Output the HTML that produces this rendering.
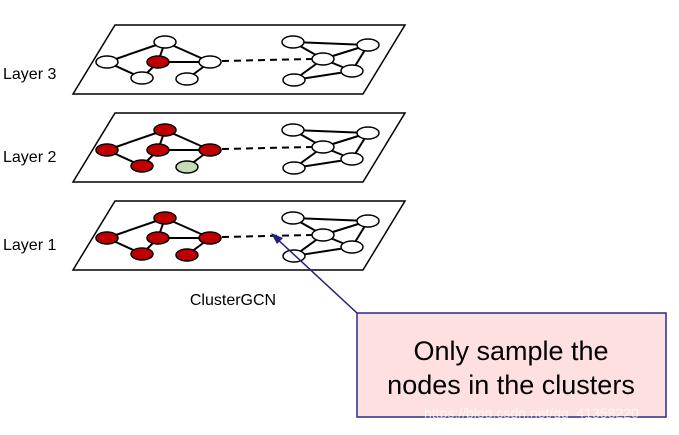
<!DOCTYPE html>
<html><head><style>body{margin:0;background:#fff}svg{display:block}</style></head><body>
<svg width="679" height="435" xmlns="http://www.w3.org/2000/svg" font-family="Liberation Sans, sans-serif">
<defs>
<g id="edges" stroke="#000" stroke-width="2" fill="none">
<polygon points="115,25 405,25 363,94 73,94" stroke-width="1.5" fill="#fff"/>
<line x1="107" y1="62" x2="165" y2="42"/><line x1="107" y1="62" x2="142" y2="78"/>
<line x1="165" y1="42" x2="210" y2="62"/><line x1="165" y1="42" x2="158" y2="62"/>
<line x1="158" y1="62" x2="210" y2="62"/><line x1="158" y1="62" x2="142" y2="78"/>
<line x1="210" y1="62" x2="187" y2="79"/>
<line x1="222" y1="61" x2="312" y2="59" stroke-dasharray="7,5"/>
<line x1="293" y1="42" x2="368" y2="45"/><line x1="293" y1="42" x2="323" y2="59"/>
<line x1="368" y1="45" x2="323" y2="59"/><line x1="368" y1="45" x2="352" y2="71"/>
<line x1="323" y1="59" x2="352" y2="71"/><line x1="323" y1="59" x2="294" y2="80"/>
<line x1="294" y1="80" x2="352" y2="71"/>
</g>
<g id="right" stroke="#000" stroke-width="1.5" fill="#fff">
<ellipse cx="293" cy="42" rx="11" ry="6"/><ellipse cx="368" cy="45" rx="11" ry="6"/>
<ellipse cx="323" cy="59" rx="11" ry="6"/><ellipse cx="352" cy="71" rx="11" ry="6"/>
<ellipse cx="294" cy="80" rx="11" ry="6"/>
</g>
</defs>
<g>
<use href="#edges"/><use href="#right"/>
<g stroke="#000" stroke-width="1.5">
<ellipse cx="107" cy="62" rx="11" ry="6" fill="#fff"/><ellipse cx="165" cy="42" rx="11" ry="6" fill="#fff"/>
<ellipse cx="158" cy="62" rx="11" ry="6" fill="#c00000"/><ellipse cx="210" cy="62" rx="11" ry="6" fill="#fff"/>
<ellipse cx="142" cy="78" rx="11" ry="6" fill="#fff"/><ellipse cx="187" cy="79" rx="11" ry="6" fill="#fff"/>
</g></g>
<g transform="translate(0,88)">
<use href="#edges"/><use href="#right"/>
<g stroke="#000" stroke-width="1.5" fill="#c00000">
<ellipse cx="107" cy="62" rx="11" ry="6"/><ellipse cx="165" cy="42" rx="11" ry="6"/>
<ellipse cx="158" cy="62" rx="11" ry="6"/><ellipse cx="210" cy="62" rx="11" ry="6"/>
<ellipse cx="142" cy="78" rx="11" ry="6"/><ellipse cx="187" cy="79" rx="11" ry="6" fill="#c5dcb5"/>
</g></g>
<g transform="translate(0,176)">
<use href="#edges"/><use href="#right"/>
<g stroke="#000" stroke-width="1.5" fill="#c00000">
<ellipse cx="107" cy="62" rx="11" ry="6"/><ellipse cx="165" cy="42" rx="11" ry="6"/>
<ellipse cx="158" cy="62" rx="11" ry="6"/><ellipse cx="210" cy="62" rx="11" ry="6"/>
<ellipse cx="142" cy="78" rx="11" ry="6"/><ellipse cx="187" cy="79" rx="11" ry="6"/>
</g></g>
<text x="3" y="79" font-size="16">Layer 3</text>
<text x="3" y="162" font-size="16">Layer 2</text>
<text x="3" y="250" font-size="16">Layer 1</text>
<text x="233" y="305" font-size="16" text-anchor="middle">ClusterGCN</text>
<line x1="357" y1="313" x2="275" y2="237" stroke="#1f1f7a" stroke-width="1.5"/>
<polygon points="271,233 283,238 277,244" fill="#1f1f7a"/>
<rect x="357" y="313" width="309" height="104" fill="#ffe0e0" stroke="#2a2a8a" stroke-width="1.5"/>
<text x="511" y="360" font-size="27" text-anchor="middle">Only sample the</text>
<text x="511" y="394" font-size="27" text-anchor="middle">nodes in the clusters</text>
<text x="424" y="418" font-size="14" fill="#fff" fill-opacity="0.7">https://blog.csdn.net/qq_41358220</text>
</svg>
</body></html>
